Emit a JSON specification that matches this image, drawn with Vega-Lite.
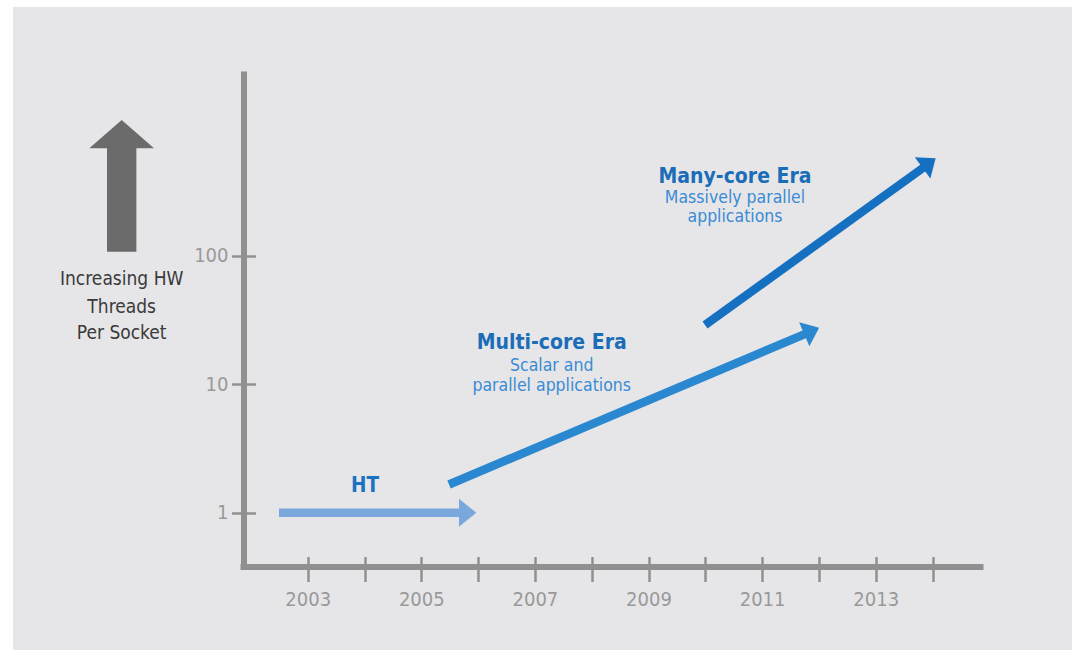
{
  "$schema": "https://vega.github.io/schema/vega-lite/v6.json",
  "width": 1059,
  "height": 643,
  "autosize": {"type": "none"},
  "padding": {"left": 13, "top": 7, "right": 0, "bottom": 0},
  "background": "#ffffff",
  "config": {
    "view": {"fill": "#e6e6e8", "stroke": null},
    "font": "DejaVu Sans Condensed, sans-serif",
    "text": {"font": "DejaVu Sans Condensed, sans-serif"}
  },
  "datasets": {
    "shafts": [
      {"arrow": "HT", "year": 2002.495, "threads": 1},
      {"arrow": "HT", "year": 2005.699, "threads": 1},
      {"arrow": "Multi-core", "year": 2005.488, "threads": 1.658},
      {"arrow": "Multi-core", "year": 2011.773, "threads": 24.76},
      {"arrow": "Many-core", "year": 2009.995, "threads": 28.88},
      {"arrow": "Many-core", "year": 2013.852, "threads": 489.2}
    ],
    "heads": [
      {"arrow": "HT", "year": 2005.816, "threads": 1},
      {"arrow": "Multi-core", "year": 2011.873, "threads": 25.94},
      {"arrow": "Many-core", "year": 2013.94, "threads": 526.4}
    ],
    "labels": [
      {"text": "Many-core Era", "kind": "title", "year": 2010.523, "threads": 369.9},
      {"text": "Massively parallel", "kind": "subtitle", "year": 2010.523, "threads": 255.7},
      {"text": "applications", "kind": "subtitle", "year": 2010.523, "threads": 184.5},
      {"text": "Multi-core Era", "kind": "title", "year": 2007.296, "threads": 18.79},
      {"text": "Scalar and", "kind": "subtitle", "year": 2007.296, "threads": 12.67},
      {"text": "parallel applications", "kind": "subtitle", "year": 2007.296, "threads": 8.852},
      {"text": "HT", "kind": "ht", "year": 2004.009, "threads": 1.441},
      {"text": "Increasing HW", "kind": "yname", "year": 1999.725, "threads": 59.16},
      {"text": "Threads", "kind": "yname", "year": 1999.725, "threads": 35.62},
      {"text": "Per Socket", "kind": "yname", "year": 1999.725, "threads": 22.36}
    ],
    "indicator": [
      {"meaning": "Increasing HW Threads Per Socket", "year": 1999.725, "threads": 349.9}
    ]
  },
  "resolve": {"axis": {"x": "independent", "y": "independent"}},
  "layer": [
    {
      "data": {"name": "shafts"},
      "mark": {"type": "line", "strokeWidth": 8.5, "strokeCap": "butt"},
      "encoding": {
        "x": {
          "field": "year", "type": "quantitative",
          "scale": {"type": "linear", "domain": [2001.808, 2014.889], "range": [227, 970], "nice": false, "zero": false},
          "axis": {
            "orient": "bottom", "offset": -83.5, "title": null, "grid": false,
            "values": [2003, 2004, 2005, 2006, 2007, 2008, 2009, 2010, 2011, 2012, 2013, 2014],
            "labelExpr": "datum.value % 2 == 1 ? datum.value + '' : ''",
            "domainColor": "#909090", "domainWidth": 6,
            "tickColor": "#909090", "tickWidth": 2.5, "tickSize": 15,
            "labelPadding": 8, "labelFontSize": 20, "labelColor": "#999999",
            "labelFont": "DejaVu Sans Condensed, sans-serif",
            "labelOverlap": false, "labelFlush": false
          }
        },
        "y": {
          "field": "threads", "type": "quantitative",
          "scale": {"type": "log", "domain": [0.3814, 2738], "range": [559.5, 64], "nice": false},
          "axis": {
            "orient": "left", "offset": -230.5, "title": null, "grid": false,
            "values": [1, 10, 100],
            "labelExpr": "datum.value + ''",
            "domainColor": "#909090", "domainWidth": 6,
            "tickColor": "#909090", "tickWidth": 2.5, "tickSize": 12,
            "labelPadding": 3.5, "labelFontSize": 20, "labelColor": "#999999",
            "labelFont": "DejaVu Sans Condensed, sans-serif",
            "labelOverlap": false, "labelFlush": false
          }
        },
        "detail": {"field": "arrow"},
        "color": {
          "field": "arrow", "type": "nominal", "legend": null,
          "scale": {"domain": ["HT", "Multi-core", "Many-core"], "range": ["#7aa8dc", "#2a88d0", "#1670c2"]}
        }
      }
    },
    {
      "data": {"name": "heads"},
      "transform": [{"filter": "datum.arrow == 'HT'"}],
      "mark": {"type": "point", "shape": "M-0.62,-1L0.62,0L-0.62,1Z", "filled": true, "opacity": 1, "size": 784, "angle": 0, "color": "#7aa8dc"},
      "encoding": {
        "x": {
          "field": "year", "type": "quantitative",
          "axis": {
            "orient": "top", "offset": -559.5, "title": null, "grid": false,
            "values": [2003, 2004, 2005, 2006, 2007, 2008, 2009, 2010, 2011, 2012, 2013, 2014],
            "domain": false, "labels": false,
            "tickColor": "#909090", "tickWidth": 2.5, "tickSize": 10
          }
        },
        "y": {
          "field": "threads", "type": "quantitative",
          "axis": {
            "orient": "right", "offset": -828.5, "title": null, "grid": false,
            "values": [1, 10, 100],
            "domain": false, "labels": false,
            "tickColor": "#909090", "tickWidth": 2.5, "tickSize": 12
          }
        }
      }
    },
    {
      "data": {"name": "heads"},
      "transform": [{"filter": "datum.arrow == 'Multi-core'"}],
      "mark": {"type": "point", "shape": "M-0.62,-1L0.62,0L-0.62,1Z", "filled": true, "opacity": 1, "size": 681, "angle": 336.8, "color": "#2a88d0"},
      "encoding": {
        "x": {"field": "year", "type": "quantitative", "axis": null},
        "y": {"field": "threads", "type": "quantitative", "axis": null}
      }
    },
    {
      "data": {"name": "heads"},
      "transform": [{"filter": "datum.arrow == 'Many-core'"}],
      "mark": {"type": "point", "shape": "M-0.62,-1L0.62,0L-0.62,1Z", "filled": true, "opacity": 1, "size": 686, "angle": 323.5, "color": "#1670c2"},
      "encoding": {
        "x": {"field": "year", "type": "quantitative", "axis": null},
        "y": {"field": "threads", "type": "quantitative", "axis": null}
      }
    },
    {
      "data": {"name": "indicator"},
      "mark": {"type": "point", "shape": "M0,-1L0.491,-0.569L0.223,-0.569L0.223,1L-0.223,1L-0.223,-0.569L-0.491,-0.569Z", "filled": true, "opacity": 1, "size": 17345, "color": "#6b6b6b", "clip": false},
      "encoding": {
        "x": {"field": "year", "type": "quantitative", "axis": null},
        "y": {"field": "threads", "type": "quantitative", "axis": null}
      }
    },
    {
      "data": {"name": "labels"},
      "transform": [{"filter": "datum.kind == 'title'"}],
      "mark": {"type": "text", "align": "center", "baseline": "alphabetic", "fontSize": 21, "fontWeight": "bold", "color": "#1b6db8"},
      "encoding": {
        "x": {"field": "year", "type": "quantitative", "axis": null},
        "y": {"field": "threads", "type": "quantitative", "axis": null},
        "text": {"field": "text"}
      }
    },
    {
      "data": {"name": "labels"},
      "transform": [{"filter": "datum.kind == 'subtitle'"}],
      "mark": {"type": "text", "align": "center", "baseline": "alphabetic", "fontSize": 17.5, "fontWeight": "normal", "color": "#3a8bd4"},
      "encoding": {
        "x": {"field": "year", "type": "quantitative", "axis": null},
        "y": {"field": "threads", "type": "quantitative", "axis": null},
        "text": {"field": "text"}
      }
    },
    {
      "data": {"name": "labels"},
      "transform": [{"filter": "datum.kind == 'ht'"}],
      "mark": {"type": "text", "align": "center", "baseline": "alphabetic", "fontSize": 20.5, "fontWeight": "bold", "color": "#1a72c2"},
      "encoding": {
        "x": {"field": "year", "type": "quantitative", "axis": null},
        "y": {"field": "threads", "type": "quantitative", "axis": null},
        "text": {"field": "text"}
      }
    },
    {
      "data": {"name": "labels"},
      "transform": [{"filter": "datum.kind == 'yname'"}],
      "mark": {"type": "text", "align": "center", "baseline": "alphabetic", "fontSize": 19, "fontWeight": "normal", "color": "#3a3a3a"},
      "encoding": {
        "x": {"field": "year", "type": "quantitative", "axis": null},
        "y": {"field": "threads", "type": "quantitative", "axis": null},
        "text": {"field": "text"}
      }
    }
  ]
}
